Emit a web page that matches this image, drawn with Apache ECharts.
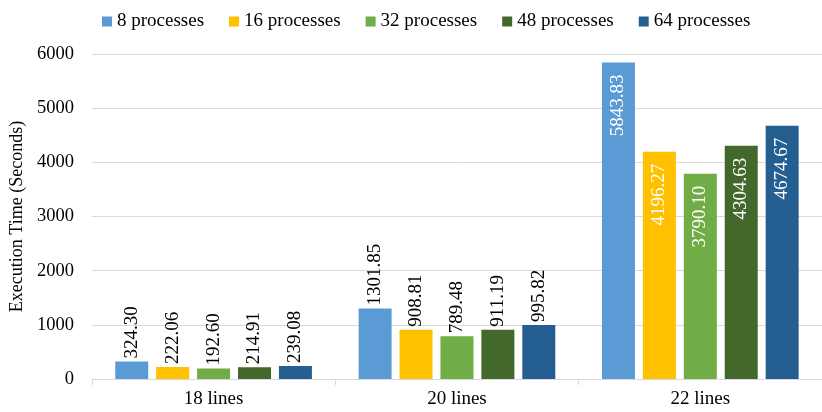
<!DOCTYPE html>
<html>
<head>
<meta charset="utf-8">
<script src="https://cdn.jsdelivr.net/npm/echarts@6/dist/echarts.min.js"></script>
<style>
    html, body { margin: 0; padding: 0; background: #fff; }
    #chart { width: 822px; height: 412px; }
</style>
</head>
<body>
<div id="chart"></div>
<script>
const categories = ['18 lines', '20 lines', '22 lines'];
const seriesNames = ['8 processes', '16 processes', '32 processes', '48 processes', '64 processes'];
const p8 = [324.30, 1301.85, 5843.83];
const p16 = [222.06, 908.81, 4196.27];
const p32 = [192.60, 789.48, 3790.10];
const p48 = [214.91, 911.19, 4304.63];
const p64 = [239.08, 995.82, 4674.67];
const seriesValues = [p8, p16, p32, p48, p64];
const colors = ['#5B9BD5', '#FFC000', '#70AD47', '#43682B', '#255E91'];

const font = 'Liberation Serif';
const chart = echarts.init(document.getElementById('chart'));

// labels sit above short bars, inside the tall ones
const makeData = (vals) => vals.map((v, i) => {
    const inside = i === 2;
    return {
        value: v,
        label: inside ? {
            position: 'insideTop',
            rotate: 90,
            align: 'right',
            verticalAlign: 'middle',
            distance: 12,
            color: '#fff'
        } : {
            position: 'top',
            rotate: 90,
            align: 'left',
            verticalAlign: 'middle',
            distance: 3,
            color: '#000'
        }
    };
});

const option = {
    animation: false,
    color: colors,
    textStyle: { fontFamily: font },
    legend: {
        data: seriesNames,
        top: 7,
        left: 97,
        icon: 'rect',
        itemWidth: 10,
        itemHeight: 10,
        itemGap: 25,
        textStyle: { fontFamily: font, fontSize: 19, color: '#000' }
    },
    grid: {
        left: 91,
        right: -9,
        top: 54,
        bottom: 33
    },
    xAxis: {
        type: 'category',
        data: categories,
        axisLine: { lineStyle: { color: '#d9d9d9' } },
        axisTick: { show: true, length: 6, lineStyle: { color: '#d9d9d9' } },
        axisLabel: { fontFamily: font, fontSize: 19, color: '#000', margin: 11 }
    },
    yAxis: {
        type: 'value',
        min: 0,
        max: 6000,
        interval: 1000,
        name: 'Execution Time (Seconds)',
        nameLocation: 'middle',
        nameGap: 63,
        nameTextStyle: { fontFamily: font, fontSize: 18, color: '#000' },
        axisLine: { show: false },
        axisTick: { show: false },
        axisLabel: { fontFamily: font, fontSize: 18.5, color: '#000', margin: 18, formatter: (v) => String(v) },
        splitLine: { lineStyle: { color: '#d9d9d9' } }
    },
    series: seriesNames.map((name, k) => ({
        name,
        type: 'bar',
        barWidth: 33,
        barGap: '24%',
        data: makeData(seriesValues[k]),
        label: {
            show: true,
            fontFamily: font,
            fontSize: 19,
            formatter: (p) => p.value.toFixed(2)
        }
    }))
};

chart.setOption(option);
</script>
</body>
</html>
